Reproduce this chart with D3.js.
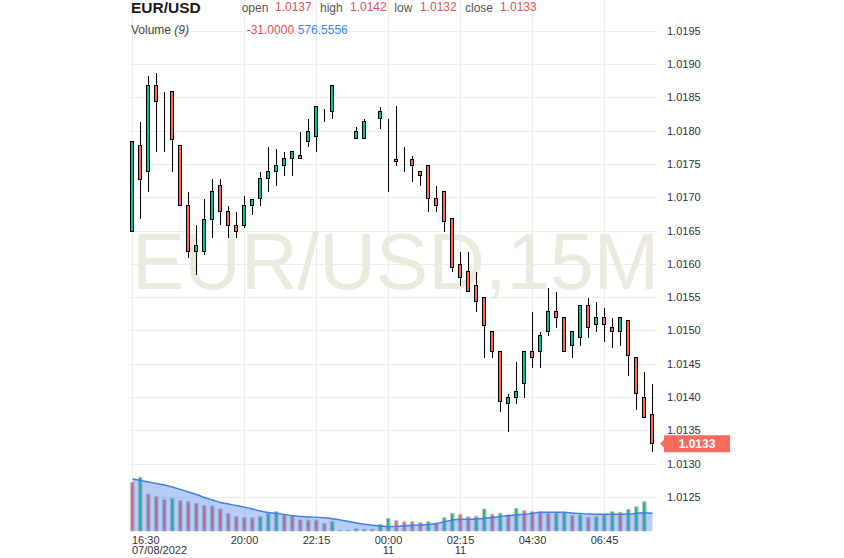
<!DOCTYPE html>
<html><head><meta charset="utf-8">
<script src="https://cdn.jsdelivr.net/npm/d3@7"></script>
<style>
body{margin:0;background:#fff;}
svg{display:block;font-family:Arial,"Liberation Sans",sans-serif;}
</style>
</head><body>
<svg id="c" width="844" height="558"></svg>
<script>
// ---- DATA ----
const opens  = [1.01648,1.01777,1.01738,1.01867,1.01836,1.01858,1.01777,1.01688,1.01618,1.01618,1.01667,1.01718,1.01678,1.01658,1.01658,1.01688,1.01698,1.01728,1.01738,1.01747,1.01758,1.01762,1.01783,1.01791,1.01828,1.01828,1.01732,1.01732,1.01788,1.01788,1.01818,1.01818,1.01758,1.01757,1.01757,1.01757,1.01738,1.01747,1.01698,1.01708,1.01668,1.01599,1.01588,1.01568,1.01549,1.01498,1.01468,1.01390,1.01399,1.01420,1.01468,1.01468,1.01498,1.01528,1.01519,1.01477,1.01489,1.01537,1.01509,1.01519,1.01504,1.01498,1.01515,1.01459,1.01399,1.01374];
const highs  = [1.01783,1.01813,1.01882,1.01886,1.01858,1.01858,1.01777,1.01708,1.01658,1.01697,1.01728,1.01728,1.01687,1.01678,1.01702,1.01697,1.01738,1.01776,1.01773,1.01768,1.01768,1.01798,1.01818,1.01836,1.01833,1.01867,1.01732,1.01732,1.01806,1.01818,1.01818,1.01836,1.01818,1.01837,1.01776,1.01762,1.01738,1.01747,1.01717,1.01708,1.01668,1.01618,1.01618,1.01588,1.01549,1.01498,1.01468,1.01405,1.01453,1.01468,1.01528,1.01498,1.01564,1.01558,1.01519,1.01498,1.01537,1.01549,1.01543,1.01534,1.01519,1.01519,1.01515,1.01459,1.01438,1.01420];
const lows   = [1.01648,1.01667,1.01708,1.01768,1.01768,1.01738,1.01688,1.01609,1.01584,1.01614,1.01639,1.01658,1.01639,1.01639,1.01654,1.01673,1.01687,1.01708,1.01717,1.01732,1.01732,1.01758,1.01776,1.01768,1.01813,1.01818,1.01732,1.01732,1.01788,1.01788,1.01818,1.01803,1.01708,1.01747,1.01738,1.01723,1.01717,1.01678,1.01678,1.01648,1.01588,1.01567,1.01558,1.01528,1.01459,1.01459,1.01378,1.01348,1.01390,1.01399,1.01444,1.01444,1.01492,1.01504,1.01468,1.01459,1.01477,1.01489,1.01498,1.01483,1.01474,1.01477,1.01432,1.01380,1.01369,1.01318];
const closes = [1.01783,1.01727,1.01867,1.01843,1.01836,1.01787,1.01688,1.01618,1.01628,1.01667,1.01708,1.01678,1.01658,1.01648,1.01688,1.01697,1.01728,1.01738,1.01747,1.01758,1.01768,1.01758,1.01798,1.01836,1.01828,1.01867,1.01732,1.01732,1.01798,1.01813,1.01818,1.01828,1.01758,1.01753,1.01757,1.01747,1.01732,1.01698,1.01687,1.01663,1.01594,1.01579,1.01558,1.01543,1.01507,1.01468,1.01393,1.01399,1.01408,1.01468,1.01459,1.01492,1.01528,1.01519,1.01468,1.01498,1.01537,1.01504,1.01519,1.01509,1.01498,1.01519,1.01462,1.01405,1.01369,1.01330];
const volumes = [1583,1745,1203,1115,1030,1050,985,952,900,822,815,715,562,465,432,428,465,575,627,520,497,358,355,352,250,302,15,18,75,58,60,218,413,335,302,300,270,302,250,432,575,543,465,478,715,543,575,520,738,660,627,620,575,595,600,497,520,445,465,520,627,608,705,790,952,-31];
const volumeMA = [1690,1641,1593,1544,1495,1430,1349,1268,1186,1089,1008,926,878,829,774,715,650,601,575,536,497,471,455,445,432,400,358,309,260,218,185,163,140,153,172,189,195,211,244,302,358,380,380,390,413,439,471,504,520,543,575,608,608,608,608,585,569,553,543,543,543,543,553,575,595,576.5556];
const tickIndex  = [0,14,23,32,41,50,59];
const tickLabels = ["16:30","20:00","22:15","00:00","02:15","04:30","06:45"];
const tickDates  = ["07/08/2022","","","11","11","",""];
const priceTicks = [1.0125,1.0130,1.0135,1.0140,1.0145,1.0150,1.0155,1.0160,1.0165,1.0170,1.0175,1.0180,1.0185,1.0190,1.0195];
const symbol = "EUR/USD";
const watermark = "EUR/USD,15M";

// ---- SCALES ----
const svg = d3.select("#c");
const L = 130, R = 657, B = 531;
const n = opens.length;
const x = d3.scaleLinear().domain([0, n - 1]).range([132.5, 652.5]);
const y = d3.scaleLinear().domain([1.0125, 1.0195]).range([497, 30.7]);
const yv = d3.scaleLinear().domain([0, 3250]).range([B, 431]);

const UP = "#13bd7a", DOWN = "#f8665b";
const fmt4 = v => v.toFixed(4);

// ---- GRID ----
const grid = svg.append("g").attr("stroke", "#ececec").attr("stroke-width", 1).attr("shape-rendering", "crispEdges");
grid.selectAll("line.h").data(priceTicks).join("line").attr("class", "h")
  .attr("x1", L).attr("x2", R).attr("y1", d => Math.round(y(d)) + 0.5).attr("y2", d => Math.round(y(d)) + 0.5);
grid.selectAll("line.v").data(tickIndex).join("line").attr("class", "v")
  .attr("x1", d => x(d)).attr("x2", d => x(d)).attr("y1", 0).attr("y2", B);

// ---- WATERMARK ----
svg.append("text").attr("x", 132).attr("y", 288.5)
  .attr("font-size", 79).attr("fill", "#ece9de")
  .attr("textLength", 527).attr("lengthAdjust", "spacingAndGlyphs")
  .text(watermark);

// ---- VOLUME ----
const vg = svg.append("g");
vg.selectAll("rect").data(volumes.map((v, i) => ({v, i})).filter(d => d.v > 0)).join("rect")
  .attr("x", d => x(d.i) - 2).attr("width", 3.5)
  .attr("y", d => yv(d.v)).attr("height", d => B - yv(d.v))
  .attr("fill", d => (d.i > 0 && d.v >= volumes[d.i - 1]) ? "#18c27c" : "#ee6a62")
  .attr("stroke", "#c4c4c4").attr("stroke-width", 1);

const area = d3.area().x((d, i) => x(i)).y0(B).y1(d => yv(d)).curve(d3.curveMonotoneX);
const line = d3.line().x((d, i) => x(i)).y(d => yv(d)).curve(d3.curveMonotoneX);
svg.append("path").datum(volumeMA).attr("d", area).attr("fill", "rgba(80,135,235,0.42)");
svg.append("path").datum(volumeMA).attr("d", line).attr("fill", "none").attr("stroke", "#3f7fe6").attr("stroke-width", 1.4);

// ---- CANDLES ----
const cg = svg.append("g").attr("shape-rendering", "crispEdges");
const candles = opens.map((o, i) => ({i, o, h: highs[i], l: lows[i], c: closes[i]}));
cg.selectAll("line").data(candles.filter(d => d.h > d.l)).join("line")
  .attr("x1", d => x(d.i)).attr("x2", d => x(d.i))
  .attr("y1", d => y(d.h)).attr("y2", d => y(d.l))
  .attr("stroke", "#000").attr("stroke-width", 1);
cg.selectAll("rect").data(candles).join("rect")
  .attr("x", d => x(d.i) - 2).attr("width", 3)
  .attr("y", d => y(Math.max(d.o, d.c)))
  .attr("height", d => Math.abs(y(d.o) - y(d.c)))
  .attr("fill", d => d.c > d.o ? UP : (d.c < d.o ? DOWN : "none"))
  .attr("stroke", d => d.h === d.l ? "#888" : "#000").attr("stroke-width", 1);

// ---- AXES LABELS ----
const ax = svg.append("g").attr("font-size", 11).attr("fill", "#333");
ax.selectAll("text.t").data(tickIndex).join("text").attr("class", "t")
  .attr("x", (d, k) => k === 0 ? 132 : x(d)).attr("y", 543.5)
  .attr("text-anchor", (d, k) => k === 0 ? "start" : "middle")
  .text((d, k) => tickLabels[k]);
ax.selectAll("text.d").data(tickIndex).join("text").attr("class", "d")
  .attr("x", (d, k) => k === 0 ? 132 : x(d)).attr("y", 553.5)
  .attr("text-anchor", (d, k) => k === 0 ? "start" : "middle")
  .text((d, k) => tickDates[k]);
ax.selectAll("text.p").data(priceTicks).join("text").attr("class", "p")
  .attr("x", 667).attr("y", d => y(d) + 4)
  .text(d => d.toFixed(4));

// ---- LAST PRICE LABEL ----
const lastC = closes[n - 1];
const ly = y(lastC);
svg.append("path")
  .attr("d", `M660,${ly} L664,${ly-4} L664,${ly-8.5} L730,${ly-8.5} L730,${ly+8.5} L664,${ly+8.5} L664,${ly+4} Z`)
  .attr("fill", "#fa6a5f");
svg.append("text").attr("x", 697).attr("y", ly + 4.3).attr("text-anchor", "middle")
  .attr("font-size", 12).attr("font-weight", "bold").attr("fill", "#fff").text(fmt4(lastC));

// ---- HEADER ----
const hd = svg.append("g").attr("font-size", 12);
hd.append("text").attr("x", 131).attr("y", 12.5).attr("font-size", 15.5).attr("font-weight", "bold").attr("fill", "#1a1a1a").text(symbol);
const ohlc = [["open", opens[n-1], 241.7, 275], ["high", highs[n-1], 320, 350], ["low", lows[n-1], 394.3, 420], ["close", closes[n-1], 465, 500]];
ohlc.forEach(([lab, v, lx, vx]) => {
  hd.append("text").attr("x", lx).attr("y", 12).attr("fill", "#555").text(lab);
  hd.append("text").attr("x", vx).attr("y", 11).attr("fill", "#e0524f").text(fmt4(v));
});
const vt = hd.append("text").attr("x", 131).attr("y", 33.5).attr("fill", "#444");
vt.append("tspan").text("Volume ");
vt.append("tspan").attr("font-style", "italic").text("(9)");
hd.append("text").attr("x", 246.7).attr("y", 33.5).attr("fill", "#e0524f").text(fmt4(volumes[n-1]));
hd.append("text").attr("x", 297.7).attr("y", 33.5).attr("fill", "#4285f4").text(fmt4(volumeMA[n-1]));
</script>
</body></html>
